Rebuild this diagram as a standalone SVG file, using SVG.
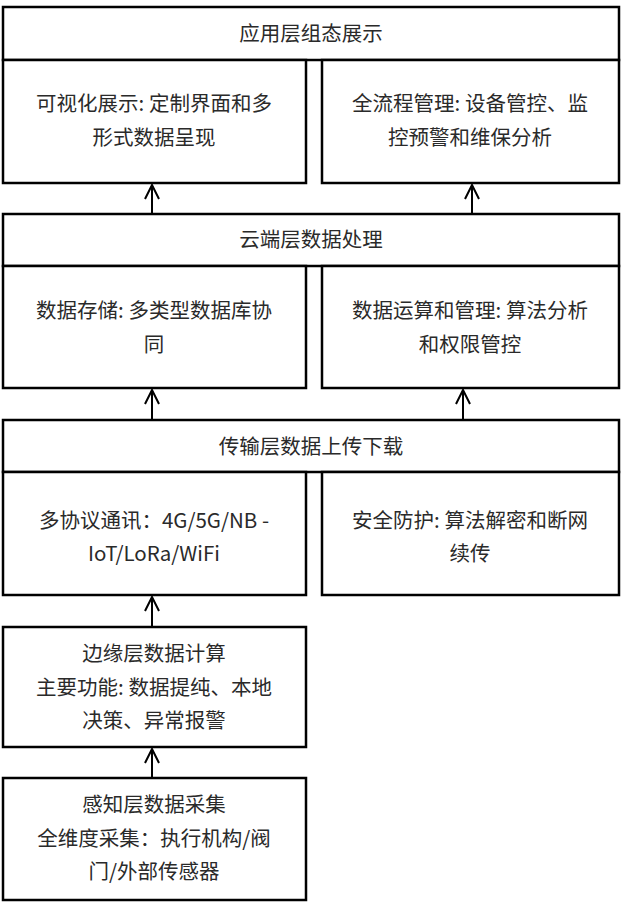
<svg xmlns="http://www.w3.org/2000/svg" width="621" height="908" viewBox="0 0 621 908">
<style>
rect{fill:#fff;stroke:#000;stroke-width:2.5}
text{font-family:"Noto Sans CJK SC",sans-serif;font-size:20.5px;fill:#2a2a2a;text-anchor:middle}
.c{stroke:#000;stroke-width:2;fill:none}
</style>
<defs><marker id="a" markerWidth="18" markerHeight="18" refX="15" refY="8" orient="auto" markerUnits="userSpaceOnUse"><path d="M1,1 L15,8 L1,15" fill="none" stroke="#000" stroke-width="2"/></marker></defs>
<rect x="0" y="0" width="621" height="908" style="stroke:none"/>
<g id="app">
<rect x="3" y="7" width="616" height="53"/><text x="311" y="41">应用层组态展示</text>
<rect x="3" y="60" width="303" height="123"/><text x="154" y="111">可视化展示: 定制界面和多</text><text x="154" y="145">形式数据呈现</text>
<rect x="322" y="60" width="297" height="123"/><text x="470" y="111">全流程管理: 设备管控、监</text><text x="470" y="145">控预警和维保分析</text>
</g>
<g id="cloud">
<rect x="3" y="214" width="616" height="52"/><text x="311" y="247">云端层数据处理</text>
<rect x="3" y="266" width="303" height="122"/><text x="154" y="318">数据存储: 多类型数据库协</text><text x="154" y="352">同</text>
<rect x="322" y="266" width="297" height="122"/><text x="470" y="318">数据运算和管理: 算法分析</text><text x="470" y="352">和权限管控</text>
</g>
<g id="transport">
<rect x="3" y="420" width="616" height="52"/><text x="311" y="454">传输层数据上传下载</text>
<rect x="3" y="472" width="303" height="123"/><text x="154" y="528">多协议通讯：4G/5G/NB -</text><text x="154" y="561">IoT/LoRa/WiFi</text>
<rect x="322" y="472" width="297" height="123"/><text x="470" y="528">安全防护: 算法解密和断网</text><text x="470" y="561">续传</text>
</g>
<g id="edge">
<rect x="3" y="627" width="303" height="120"/><text x="154" y="661">边缘层数据计算</text><text x="154" y="695">主要功能: 数据提纯、本地</text><text x="154" y="728">决策、异常报警</text>
</g>
<g id="sense">
<rect x="3" y="778" width="303" height="122"/><text x="154" y="812">感知层数据采集</text><text x="154" y="846">全维度采集：执行机构/阀</text><text x="154" y="879">门/外部传感器</text>
</g>
<g id="connectors">
<line class="c" x1="152" y1="214" x2="152" y2="185" marker-end="url(#a)"/>
<line class="c" x1="472" y1="214" x2="472" y2="185" marker-end="url(#a)"/>
<line class="c" x1="152" y1="420" x2="152" y2="390" marker-end="url(#a)"/>
<line class="c" x1="463" y1="420" x2="463" y2="390" marker-end="url(#a)"/>
<line class="c" x1="152" y1="627" x2="152" y2="597" marker-end="url(#a)"/>
<line class="c" x1="152" y1="778" x2="152" y2="749" marker-end="url(#a)"/>
</g>
</svg>
